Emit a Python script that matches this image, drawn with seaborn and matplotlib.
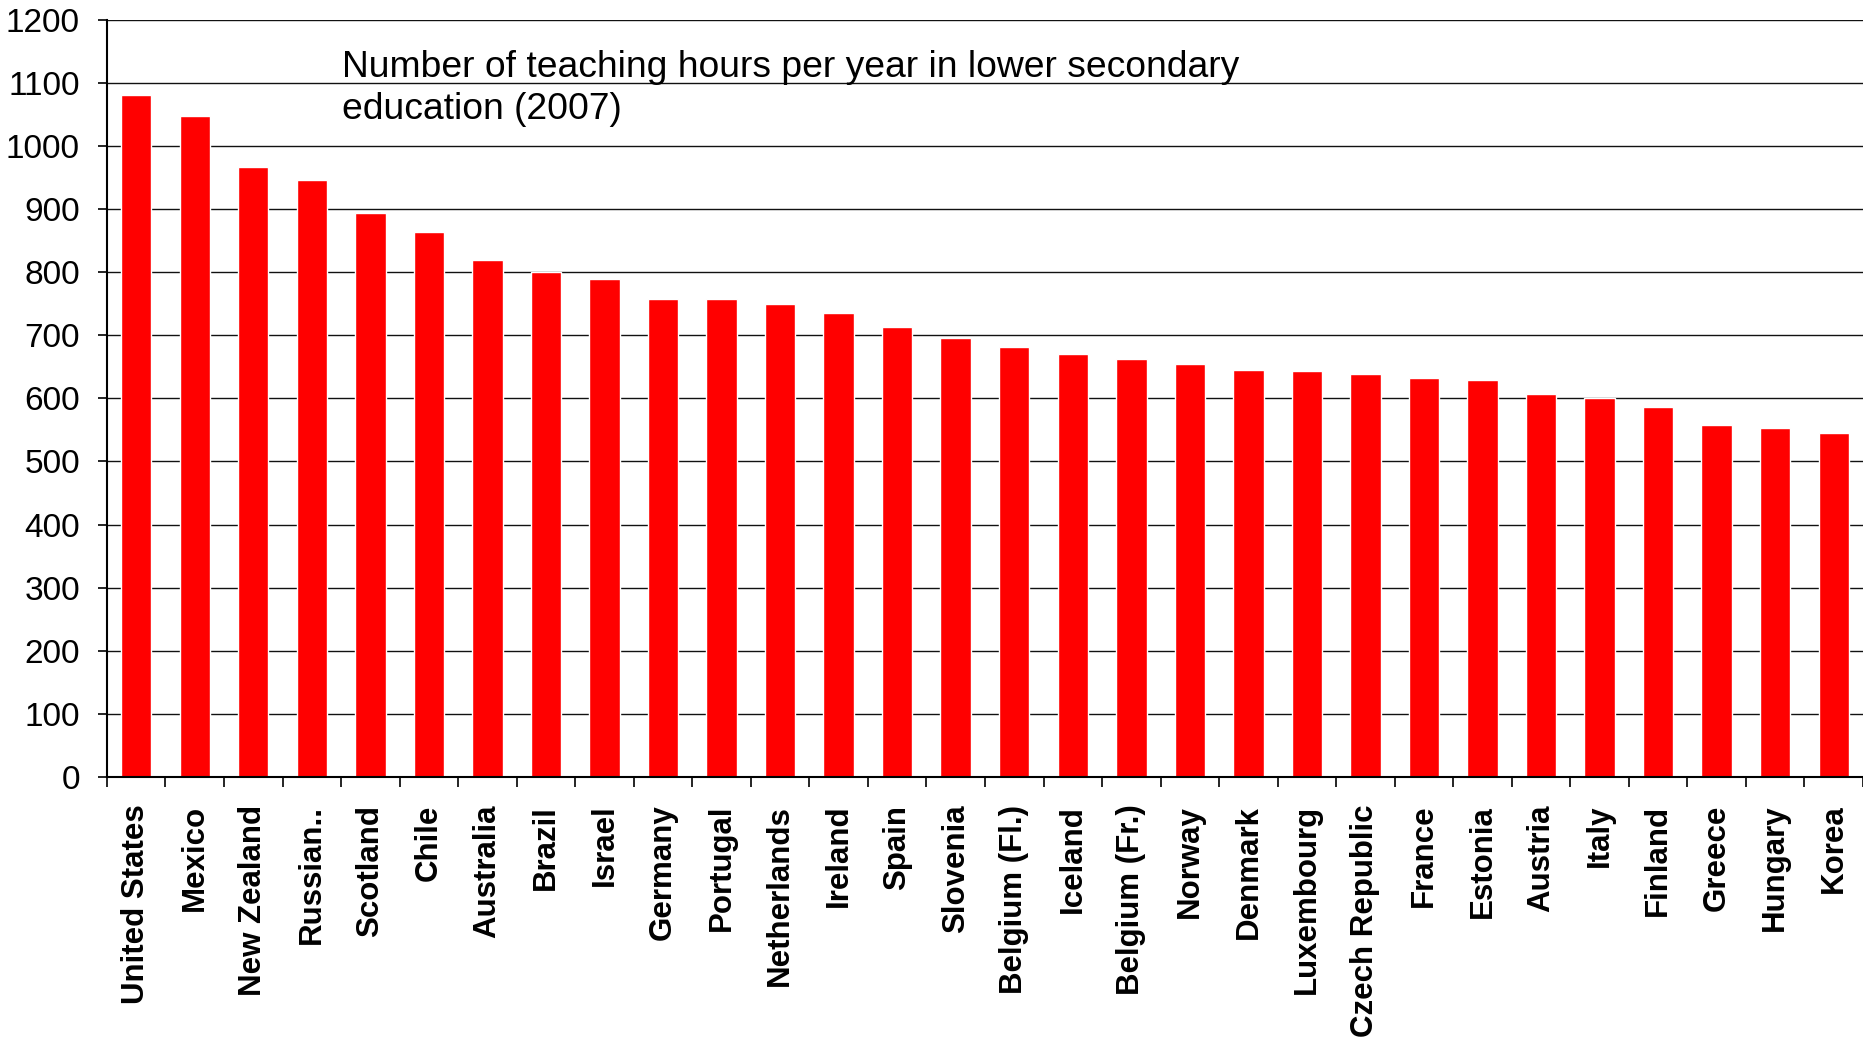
import matplotlib
matplotlib.use("Agg")
import matplotlib.pyplot as plt
import numpy as np
import seaborn as sns

sns.set_style("white")
plt.rcParams['font.family'] = ['Liberation Sans', 'DejaVu Sans']
plt.rcParams['text.color'] = 'black'
plt.rcParams['xtick.color'] = 'black'
plt.rcParams['ytick.color'] = 'black'

# teaching hours per year, lower secondary (2007)
countries = ["United States", "Mexico", "New Zealand", "Russian..", "Scotland", "Chile",
             "Australia", "Brazil", "Israel", "Germany", "Portugal", "Netherlands",
             "Ireland", "Spain", "Slovenia", "Belgium (Fl.)", "Iceland", "Belgium (Fr.)",
             "Norway", "Denmark", "Luxembourg", "Czech Republic", "France", "Estonia",
             "Austria", "Italy", "Finland", "Greece", "Hungary", "Korea"]
hours = [1080, 1047, 967, 946, 893, 864,
         819, 800, 789, 758, 758, 750,
         735, 713, 696, 682, 671, 662,
         654, 645, 643, 639, 632, 629,
         607, 600, 587, 557, 553, 545]
yticks = list(range(0, 1201, 100))

fig = plt.figure(figsize=(18.63, 10.40), dpi=100)
ax = fig.add_axes([0.0574, 0.253, 1 - 0.0574, 0.728])

sns.barplot(x=countries, y=hours, color="#ff0000", saturation=1, width=0.52, ax=ax)

ax.set_xlim(-0.5, len(countries) - 0.5)
ax.set_ylim(0, 1200)
ax.set_yticks(yticks)
ax.yaxis.grid(True, color="#111111", lw=1.0)
ax.set_axisbelow(True)

for s in ["top", "right"]:
    ax.spines[s].set_visible(False)
for s in ["left", "bottom"]:
    ax.spines[s].set_color("black")
    ax.spines[s].set_linewidth(1.5)

# ticks between the bars, labels centred under them
ax.set_xticks(np.arange(-0.5, len(countries), 1), minor=True)
ax.tick_params(axis="x", which="minor", length=7, width=1.2, color="black", bottom=True)
ax.tick_params(axis="x", which="major", length=0, pad=20)
ax.tick_params(axis="y", length=6.5, width=1.2, color="black", pad=13, labelsize=24, left=True)
ax.set_xticks(range(len(countries)))
ax.set_xticklabels(countries, rotation=90, fontsize=22.5, fontweight="bold")
ax.set_xlabel("")
ax.set_ylabel("")

ax.text(3.52, 1152, "Number of teaching hours per year in lower secondary\neducation (2007)",
        fontsize=26.8, va="top", ha="left", linespacing=1.27, color="black")

fig.savefig("out.png", dpi=100)
